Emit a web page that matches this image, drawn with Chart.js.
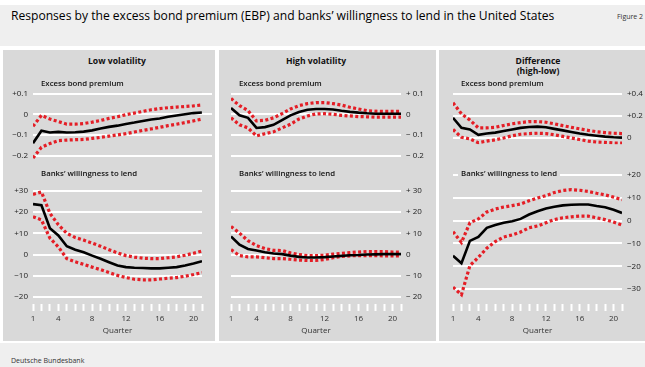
<!DOCTYPE html>
<html lang="en">
<head>
<meta charset="UTF-8" />
<title>EBP and banks' willingness to lend</title>
<script src="https://cdn.jsdelivr.net/npm/chart.js"></script>
<style>
  body { margin: 0; width: 645px; height: 367px; background: #fff; font-family: "Open Sans", sans-serif; overflow: hidden; position: relative; }
  .box { position: absolute; }
  .head { left: 0; top: 5px; width: 645px; height: 41px; background: #efefef; }
  .foot { left: 0; top: 343px; width: 645px; height: 24px; background: #efefef; }
  .panel { top: 50px; height: 291px; background: #d9d9d9; }
  .txt { position: absolute; white-space: nowrap; line-height: 1; color: #111; }
  .title { left: 11px; top: 10px; font-size: 12.1px; color: #000; }
  .fig { left: 617px; top: 13px; font-size: 7px; color: #333; }
  .src { left: 11px; top: 357px; font-size: 7px; color: #333; }
  .col { font-size: 8.6px; font-weight: 700; text-align: center; width: 120px; line-height: 10px; }
  .sub { font-size: 7.8px; font-weight: 600; }
  .cv { position: absolute; }
</style>
</head>
<body>
<div class="box head"></div>
<div class="box foot"></div>
<div class="box panel" style="left:3px;width:212px"></div>
<div class="box panel" style="left:219px;width:217px"></div>
<div class="box panel" style="left:439px;width:206px"></div>

<div class="txt title">Responses by the excess bond premium (EBP) and banks’ willingness to lend in the United States</div>
<div class="txt fig">Figure 2</div>
<div class="txt src">Deutsche Bundesbank</div>

<div id="charts"></div>

<div class="txt col" style="left:57px;top:56px">Low volatility</div>
<div class="txt col" style="left:256px;top:56px">High volatility</div>
<div class="txt col" style="left:478px;top:56px">Difference<br>(high-low)</div>

<div class="txt sub" style="left:41px;top:80px">Excess bond premium</div>
<div class="txt sub" style="left:239px;top:80px">Excess bond premium</div>
<div class="txt sub" style="left:461px;top:80px">Excess bond premium</div>
<div class="txt sub" style="left:41px;top:170px">Banks’ willingness to lend</div>
<div class="txt sub" style="left:239px;top:170px">Banks’ willingness to lend</div>
<div class="txt sub" style="left:458px;top:169px;padding:1px 3px;background:#d9d9d9">Banks’ willingness to lend</div>

<script>
  const quarters = [1, 2, 3, 4, 5, 6, 7, 8, 9, 10, 11, 12, 13, 14, 15, 16, 17, 18, 19, 20, 21];
  const quarterLabels = [1, 4, 8, 12, 16, 20];

  const lowEbp = [-0.14, -0.08, -0.088, -0.085, -0.088, -0.087, -0.084, -0.078, -0.069, -0.061, -0.055, -0.047, -0.04, -0.032, -0.025, -0.02, -0.012, -0.006, 0, 0.006, 0.009];
  const lowEbpUp = [-0.058, -0.005, -0.023, -0.035, -0.048, -0.048, -0.045, -0.038, -0.03, -0.02, -0.012, -0.002, 0.006, 0.014, 0.022, 0.028, 0.032, 0.035, 0.038, 0.041, 0.045];
  const lowEbpLo = [-0.212, -0.16, -0.142, -0.128, -0.125, -0.123, -0.122, -0.117, -0.112, -0.106, -0.1, -0.094, -0.086, -0.078, -0.071, -0.063, -0.055, -0.048, -0.04, -0.032, -0.023];

  const lowBanks = [23.7, 23.2, 12.4, 9, 3.9, 2.3, 1.1, -0.5, -2, -3.6, -5.1, -5.9, -6.2, -6.3, -6.5, -6.5, -6.2, -5.9, -5.1, -4.2, -3.1];
  const lowBanksUp = [28.3, 29.4, 19.4, 14, 10, 8, 6.8, 5.4, 3.9, 2.3, 0.8, -0.5, -1.2, -1.7, -1.9, -1.9, -1.5, -1.1, -0.3, 0.6, 1.7];
  const lowBanksLo = [17.8, 16.3, 7.7, 3.6, -1.9, -3.4, -4.6, -5.9, -7.1, -8.5, -9.8, -10.8, -11.6, -11.9, -11.9, -11.5, -11.1, -10.8, -10.2, -9.4, -8.5];

  const highEbp = [0.031, -0.005, -0.017, -0.066, -0.062, -0.051, -0.028, -0.005, 0.011, 0.022, 0.026, 0.026, 0.023, 0.017, 0.012, 0.008, 0.005, 0.003, 0.003, 0.003, 0.003];
  const highEbpUp = [0.077, 0.042, 0.018, -0.032, -0.029, -0.017, 0.003, 0.026, 0.042, 0.052, 0.057, 0.057, 0.052, 0.045, 0.034, 0.026, 0.018, 0.015, 0.014, 0.014, 0.014];
  const highEbpLo = [-0.017, -0.051, -0.066, -0.105, -0.094, -0.085, -0.066, -0.048, -0.023, -0.008, 0.002, 0.003, 0, -0.005, -0.008, -0.011, -0.012, -0.014, -0.014, -0.014, -0.014];

  const highBanks = [8.5, 4.6, 2.6, 1.9, 1.1, 0.5, 0.2, -0.5, -1.1, -1.4, -1.4, -1.2, -0.9, -0.6, -0.3, -0.2, 0, 0.1, 0.2, 0.2, 0.2];
  const highBanksUp = [13.2, 10.1, 6.5, 4.2, 2.8, 2, 1.9, 0.8, 0, -0.5, -0.5, -0.3, 0.2, 0.6, 0.9, 1.2, 1.4, 1.4, 1.4, 1.2, 1.2];
  const highBanksLo = [2.3, -0.5, -1.1, -1.1, -1.5, -1.9, -1.9, -2.2, -2.6, -2.8, -2.8, -2.3, -1.5, -0.9, -0.6, -0.5, -0.5, -0.5, -0.6, -0.6, -0.6];

  const diffEbp = [0.18, 0.089, 0.074, 0.026, 0.037, 0.046, 0.06, 0.074, 0.089, 0.097, 0.1, 0.094, 0.08, 0.066, 0.051, 0.037, 0.026, 0.017, 0.009, 0.003, 0];
  const diffEbpUp = [0.317, 0.217, 0.16, 0.089, 0.089, 0.094, 0.111, 0.126, 0.137, 0.146, 0.146, 0.14, 0.126, 0.109, 0.094, 0.08, 0.066, 0.054, 0.046, 0.04, 0.037];
  const diffEbpLo = [0.074, 0.003, -0.011, -0.046, -0.031, -0.02, -0.003, 0.017, 0.031, 0.037, 0.04, 0.037, 0.026, 0.011, -0.003, -0.017, -0.031, -0.04, -0.043, -0.049, -0.049];

  const diffBanks = [-15.4, -18.7, -8.9, -7.2, -3.2, -2, -1, -0.3, 0.7, 2.6, 4, 5.2, 6, 6.6, 6.9, 7, 7, 6.3, 5.8, 4.7, 3.3];
  const diffBanksUp = [-4.9, -9.6, -1, 0.7, 3.7, 5, 5.9, 6.5, 7.2, 8.6, 9.8, 10.9, 12.2, 13.1, 13.5, 13.2, 12.7, 11.9, 11.2, 10.2, 9.1];
  const diffBanksLo = [-29.1, -32.4, -19.7, -16.1, -12.1, -9.2, -7.2, -6.3, -5, -3.2, -2.4, -1, 0.4, 1.2, 1.6, 1.9, 1.9, 1.2, 0.4, -0.7, -2];

  const ebpTicks = [-0.2, -0.1, 0, 0.1];
  const diffEbpTicks = [0, 0.2, 0.4];
  const banksTicks = [-20, -10, 0, 10, 20, 30];
  const diffBanksTicks = [-30, -20, -10, 0, 10, 20];

  const RED = "rgb(228, 30, 38)";
  const GRID = "#ffffff";
  const AXIS_W = 34;
  const X_H = 32;
  const PAD = 8;

  Chart.defaults.font.family = "'Open Sans', sans-serif";
  Chart.defaults.font.size = 8;
  Chart.defaults.color = "#222";

  function fmt(v, sep) {
    const a = Math.abs(v).toString();
    if (v > 0) return "+" + sep + a;
    if (v < 0) return "\u2212" + sep + a;
    return "0";
  }

  // p: plot box in page px, ref: two value->pixel pairs, lo/hi: wanted range
  function makeChart(p) {
    const k = (p.ref[3] - p.ref[1]) / (p.ref[0] - p.ref[2]);
    const top = Math.round(p.ref[1] - (p.hi - p.ref[0]) * k);
    const bottom = Math.round(p.ref[1] + (p.ref[0] - p.lo) * k);
    const yMax = p.ref[0] + (p.ref[1] - top) / k;
    const yMin = p.ref[0] - (bottom - p.ref[1]) / k;

    const left = p.side === "left";
    const padB = p.xAxis ? 0 : PAD;
    const div = document.createElement("div");
    div.className = "cv";
    div.style.left = (p.left - (left ? AXIS_W : PAD)) + "px";
    div.style.top = (top - PAD) + "px";
    div.style.width = (p.right - p.left + AXIS_W + PAD) + "px";
    div.style.height = (bottom - top + PAD + (p.xAxis ? X_H : 0) + padB) + "px";
    const canvas = document.createElement("canvas");
    div.appendChild(canvas);
    document.getElementById("charts").appendChild(div);

    const series = (vals) => vals.map((v, i) => ({ x: quarters[i], y: v }));

    return new Chart(canvas, {
      type: "line",
      data: {
        datasets: [
          { data: series(p.mid), borderColor: "#000", borderWidth: 2.6 },
          { data: series(p.up), borderColor: RED, borderWidth: 3.2, borderDash: [3, 2.4] },
          { data: series(p.lo2), borderColor: RED, borderWidth: 3.2, borderDash: [3, 2.4] },
        ],
      },
      options: {
        animation: false,
        responsive: true,
        maintainAspectRatio: false,
        layout: { padding: { top: PAD, bottom: padB, left: left ? 0 : PAD, right: left ? PAD : 0 } },
        elements: { point: { radius: 0 }, line: { tension: 0, borderCapStyle: "butt" } },
        plugins: { legend: { display: false }, tooltip: { enabled: false } },
        scales: {
          x: {
            type: "linear",
            display: !!p.xAxis,
            min: 1,
            max: p.xMax,
            afterBuildTicks: (s) => { s.ticks = quarters.map((q) => ({ value: q })); },
            afterFit: (s) => { s.height = p.xAxis ? X_H : 0; },
            grid: { drawOnChartArea: false, drawTicks: true, tickLength: 7, tickColor: GRID, tickWidth: 2 },
            border: { display: false },
            ticks: {
              autoSkip: false,
              maxRotation: 0,
              padding: 3,
              color: "#333",
              callback: (v) => (quarterLabels.includes(v) ? String(v) : ""),
            },
            title: { display: true, text: "Quarter", color: "#333", font: { size: 8 }, padding: { top: 0, bottom: 0 } },
          },
          y: {
            position: p.side,
            min: yMin,
            max: yMax,
            afterBuildTicks: (s) => { s.ticks = p.ticks.map((t) => ({ value: t })); },
            afterFit: (s) => { s.width = AXIS_W; },
            grid: { color: GRID, lineWidth: 2, drawTicks: false },
            border: { display: false },
            ticks: { autoSkip: false, padding: 5, color: "#222", callback: (v) => fmt(v, p.sep) },
          },
        },
      },
    });
  }

  // Low volatility
  makeChart({ left: 33, right: 212, xMax: 22.2, side: "left", sep: "", ref: [0.1, 92, -0.2, 157], hi: 0.11, lo: -0.23,
    ticks: ebpTicks, mid: lowEbp, up: lowEbpUp, lo2: lowEbpLo });
  makeChart({ left: 33, right: 202, xMax: 21, side: "left", sep: "", ref: [30, 189, -20, 297], hi: 32, lo: -23.2, xAxis: true,
    ticks: banksTicks, mid: lowBanks, up: lowBanksUp, lo2: lowBanksLo });

  // High volatility
  makeChart({ left: 231, right: 401, xMax: 21, side: "right", sep: " ", ref: [0.1, 92, -0.2, 157], hi: 0.11, lo: -0.23,
    ticks: ebpTicks, mid: highEbp, up: highEbpUp, lo2: highEbpLo });
  makeChart({ left: 231, right: 401, xMax: 21, side: "right", sep: " ", ref: [30, 189, -20, 297], hi: 32, lo: -23.2, xAxis: true,
    ticks: banksTicks, mid: highBanks, up: highBanksUp, lo2: highBanksLo });

  // Difference
  makeChart({ left: 453, right: 622, xMax: 21, side: "right", sep: "", ref: [0.4, 92, 0, 139], hi: 0.42, lo: -0.06,
    ticks: diffEbpTicks, mid: diffEbp, up: diffEbpUp, lo2: diffEbpLo });
  makeChart({ left: 453, right: 622, xMax: 21, side: "right", sep: "", ref: [20, 173, -30, 289], hi: 23, lo: -36.5, xAxis: true,
    ticks: diffBanksTicks, mid: diffBanks, up: diffBanksUp, lo2: diffBanksLo });
</script>
</body>
</html>
